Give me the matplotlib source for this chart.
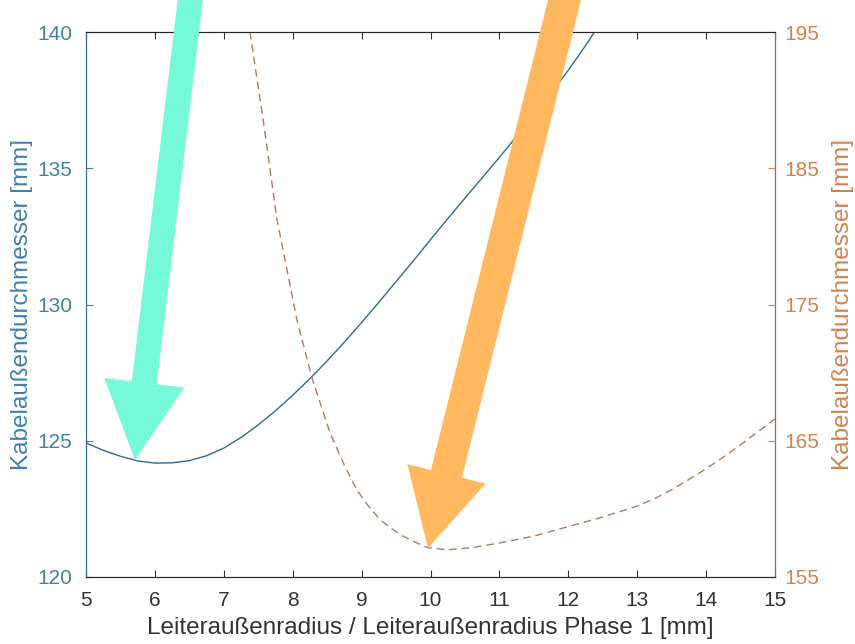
import matplotlib.pyplot as plt

plt.rcParams['font.family'] = ['Liberation Sans', 'DejaVu Sans']

# Kabelaußendurchmesser (linke Achse)
x_links = [5.0, 5.25, 5.5, 5.75, 6.0, 6.25, 6.5, 6.75, 7.0, 7.25, 7.5, 7.75, 8.0, 8.25, 8.5, 8.75,
           9.0, 9.25, 9.5, 9.75, 10.0, 10.25, 10.5, 10.75, 11.0, 11.25, 11.5, 11.75, 12.0, 12.25, 12.38]
y_links = [124.92, 124.65, 124.43, 124.26, 124.18, 124.19, 124.27, 124.45, 124.73, 125.12, 125.58,
           126.1, 126.67, 127.28, 127.93, 128.62, 129.34, 130.08, 130.84, 131.6, 132.38, 133.15,
           133.9, 134.65, 135.4, 136.17, 136.95, 137.75, 138.6, 139.5, 140.0]

# Kabelaußendurchmesser (rechte Achse)
x_rechts = [7.38, 7.57, 7.77, 8.06, 8.28, 8.54, 8.75, 8.93, 9.1, 9.27, 9.45, 9.6, 9.8, 9.96, 10.24,
            10.6, 11.0, 11.5, 12.0, 12.5, 12.75, 13.0, 13.25, 13.5, 13.75, 14.0, 14.25, 14.5, 14.75, 15.0]
y_rechts = [195.0, 188.6, 181.3, 173.9, 169.6, 165.6, 163.2, 161.4, 160.2, 159.2, 158.5, 158.0, 157.5,
            157.15, 157.0, 157.15, 157.5, 158.0, 158.7, 159.4, 159.8, 160.2, 160.75, 161.4, 162.15,
            162.95, 163.8, 164.7, 165.65, 166.6]

xticks = list(range(5, 16))
yticks_links = [120, 125, 130, 135, 140]
yticks_rechts = [155, 165, 175, 185, 195]

blau = '#3f80ad'
braun = '#d08350'
grau = '#333333'

fig = plt.figure(figsize=(8.55, 6.44), dpi=100)
ax = fig.add_axes([86 / 855, 1 - 577 / 644, (775 - 86) / 855, (577 - 32) / 644])
ax2 = ax.twinx()

ax.plot(x_links, y_links, color='#2f6a92', lw=1.0)
ax2.plot(x_rechts, y_rechts, color='#b07a62', lw=1.0, dashes=(5.5, 3.5))

ax.set_xlim(5, 15)
ax.set_ylim(120, 140)
ax2.set_ylim(155, 195)
ax.set_xticks(xticks)
ax.set_yticks(yticks_links)
ax2.set_yticks(yticks_rechts)

ax.tick_params(axis='x', direction='in', top=True, labelsize=15, colors=grau, pad=10, length=5)
ax.tick_params(axis='y', direction='in', labelsize=15, colors=blau, length=5, pad=10)
ax2.tick_params(axis='y', direction='in', labelsize=15, colors=braun, length=5, pad=7)

ax.set_xlabel('Leiteraußenradius / Leiteraußenradius Phase 1 [mm]', fontsize=17.5,
              color=grau, labelpad=5)
ax.set_ylabel('Kabelaußendurchmesser [mm]', fontsize=17.5, color=blau, labelpad=3)
ax2.set_ylabel('Kabelaußendurchmesser [mm]', fontsize=17.5, color=braun, labelpad=9)

for s in ['top', 'bottom']:
    ax.spines[s].set_color('#262626')
    ax2.spines[s].set_color('#262626')
ax2.spines['left'].set_color('#3f6f90')
ax2.spines['right'].set_color('#a86a44')

# Pfeile
ax2.annotate('', xy=(135, 644 - 460), xytext=(191, 650), xycoords='figure pixels',
             textcoords='figure pixels',
             arrowprops=dict(arrowstyle='simple,head_length=56,head_width=58,tail_width=18',
                             mutation_scale=1, color='#76F9D8', shrinkA=0, shrinkB=0, lw=0))
ax2.annotate('', xy=(428, 644 - 548), xytext=(566, 650), xycoords='figure pixels',
             textcoords='figure pixels',
             arrowprops=dict(arrowstyle='simple,head_length=55,head_width=58,tail_width=23',
                             mutation_scale=1, color='#FFB85E', shrinkA=0, shrinkB=0, lw=0))

plt.savefig('out.png', dpi=100)
